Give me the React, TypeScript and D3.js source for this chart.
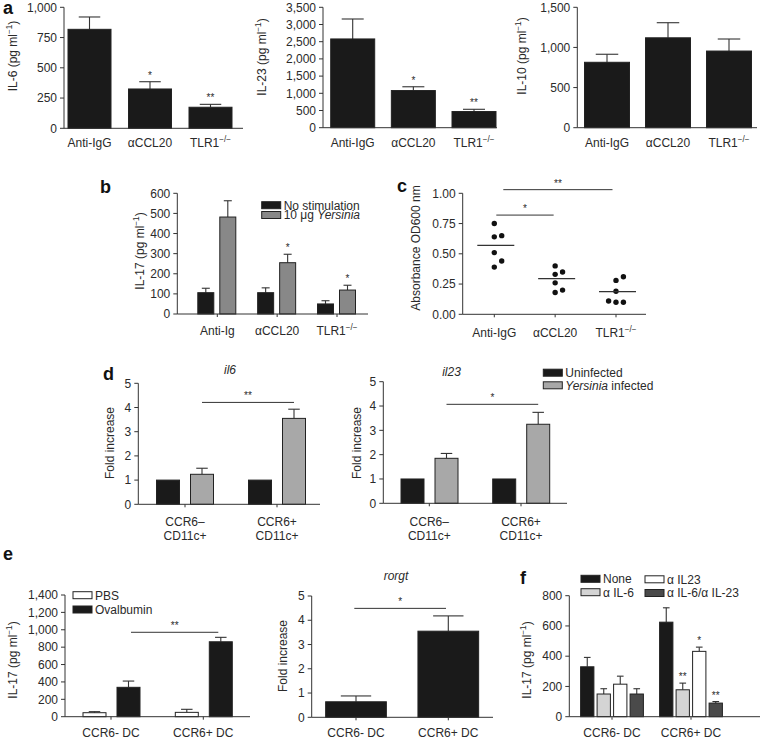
import React from "react";
import * as d3 from "d3";

const FONT = "'Liberation Sans', Arial, Helvetica, sans-serif";
const AX = "#333";
const TXT = "#2a2a2a";
const BLACK = "#1a1a1a";

// ---------- Panel a ----------
const aCats = ["Anti-IgG", "αCCL20", "TLR1^{−/−}"];
const il6Vals = [818, 325, 174];
const il6Errs = [920, 385, 198];
const il6Sig = ["", "*", "**"];
const il6Ticks = [0, 250, 500, 750, 1000];
const il23Vals = [2580, 1080, 470];
const il23Errs = [3160, 1190, 535];
const il23Sig = ["", "*", "**"];
const il23Ticks = [0, 500, 1000, 1500, 2000, 2500, 3000, 3500];
const il10Vals = [815, 1120, 955];
const il10Errs = [915, 1308, 1105];
const il10Ticks = [0, 500, 1000, 1500];

// ---------- Panel b ----------
const bCats = ["Anti-Ig", "αCCL20", "TLR1^{−/−}"];
const bNoStim = [106, 106, 50];
const bNoStimErr = [128, 130, 66];
const bYers = [482, 255, 119];
const bYersErr = [563, 297, 143];
const bSig = ["", "*", "*"];
const bTicks = [0, 100, 200, 300, 400, 500, 600];

// ---------- Panel c ----------
const cCats = ["Anti-IgG", "αCCL20", "TLR1^{−/−}"];
const cPoints: number[][] = [
  [0.75, 0.64, 0.65, 0.51, 0.44, 0.39],
  [0.40, 0.33, 0.35, 0.26, 0.20, 0.18],
  [0.28, 0.31, 0.19, 0.11, 0.10, 0.10],
];
const cColumns: number[][] = [
  [0, 0, 1, 0, 1, 0],
  [0, 0, 1, 0, 1, 0],
  [0, 1, 0, -1, 0, 1],
];
const cMeans = [0.57, 0.295, 0.187];
const cTicks = [0, 0.25, 0.5, 0.75, 1.0];

// ---------- Panel d ----------
const dCats = ["CCR6–\nCD11c+", "CCR6+\nCD11c+"];
const dUninf = [1, 1];
const il6Yers = [1.24, 3.55];
const il6YersErr = [1.49, 3.93];
const il23Yers = [1.85, 3.25];
const il23YersErr = [2.05, 3.74];
const foldTicks = [0, 1, 2, 3, 4, 5];

// ---------- Panel e ----------
const eCats = ["CCR6- DC", "CCR6+ DC"];
const ePBS = [46, 50];
const ePBSErr = [58, 85];
const eOva = [338, 862];
const eOvaErr = [410, 913];
const eTicks = [0, 200, 400, 600, 800, 1000, 1200, 1400];
const rorgtVals = [0.64, 3.55];
const rorgtErrs = [0.88, 4.18];

// ---------- Panel f ----------
const fNone = [330, 625];
const fNoneErr = [392, 720];
const fIL6 = [150, 178];
const fIL6Err = [185, 222];
const fIL23 = [215, 432];
const fIL23Err = [268, 460];
const fBoth = [150, 90];
const fBothErr = [185, 100];
const fSigIL6 = ["", "**"];
const fSigIL23 = ["", "*"];
const fSigBoth = ["", "**"];
const fTicks = [0, 200, 400, 600, 800];

function rich(s: string, size: number) {
  const parts = s.split(/(\^\{[^}]*\}|_\{[^}]*\})/).filter((p) => p.length > 0);
  let shift = 0;
  return parts.map((p, i) => {
    let t = p;
    let sup = false;
    let it = false;
    if (p.startsWith("^{")) {
      t = p.slice(2, -1);
      sup = true;
    } else if (p.startsWith("_{")) {
      t = p.slice(2, -1);
      it = true;
    }
    const target = sup ? -size * 0.42 : 0;
    const dy = target - shift;
    shift = target;
    return (
      <tspan key={i} dy={dy} fontSize={sup ? size * 0.68 : size} fontStyle={it ? "italic" : undefined}>
        {t}
      </tspan>
    );
  });
}

function YTitle({ cx, cy, s, size = 12 }: { cx: number; cy: number; s: string; size?: number }) {
  return (
    <text transform={`translate(${cx + size * 0.36},${cy}) rotate(-90)`} textAnchor="middle" fontSize={size} fill={TXT}>
      {rich(s, size)}
    </text>
  );
}

type Series = {
  values: number[];
  errs?: number[];
  fill: string;
  offset: number;
  width: number;
  sig?: string[];
};

type Bracket = { i0: number; i1: number; s: number; level: number; label: string; in0?: number; in1?: number };

function BarChart(p: {
  ax: number;
  top: number;
  bottom: number;
  right: number;
  max: number;
  ticks: number[];
  fmt: (n: number) => string;
  cats: string[];
  c0: number;
  c1: number;
  series: Series[];
  catTicks?: boolean;
  labelY: number;
  brackets?: Bracket[];
}) {
  const y = d3.scaleLinear().domain([0, p.max]).range([p.bottom, p.top]);
  const x = d3.scalePoint<string>().domain(p.cats).range([p.c0, p.c1]);
  return (
    <g>
      {p.series.map((s, si) =>
        s.values.map((v, i) => {
          const cx = (x(p.cats[i]) as number) + s.offset;
          const e = s.errs ? s.errs[i] : v;
          return (
            <g key={`${si}-${i}`}>
              {e > v && (
                <g stroke={AX} strokeWidth={1.1}>
                  <line x1={cx} x2={cx} y1={y(v)} y2={y(e)} />
                  <line x1={cx - s.width / 4} x2={cx + s.width / 4} y1={y(e)} y2={y(e)} />
                </g>
              )}
              <rect x={cx - s.width / 2} y={y(v)} width={s.width} height={p.bottom - y(v)} fill={s.fill} stroke="#222" strokeWidth={1} />
              {s.sig && s.sig[i] && (
                <text x={cx} y={y(e) - 3} textAnchor="middle" fontSize={10} fill={TXT}>
                  {s.sig[i]}
                </text>
              )}
            </g>
          );
        })
      )}
      <line x1={p.ax} x2={p.ax} y1={p.top} y2={p.bottom} stroke={AX} />
      <line x1={p.ax} x2={p.right} y1={p.bottom} y2={p.bottom} stroke={AX} />
      {p.ticks.map((t) => (
        <g key={t}>
          <line x1={p.ax - 4} x2={p.ax} y1={y(t)} y2={y(t)} stroke={AX} />
          <text x={p.ax - 7} y={y(t) + 4.2} textAnchor="end" fontSize={12} fill={TXT}>
            {p.fmt(t)}
          </text>
        </g>
      ))}
      {p.cats.map((c) => {
        const cx = x(c) as number;
        const lines = c.split("\n");
        return (
          <g key={c}>
            {p.catTicks && <line x1={cx} x2={cx} y1={p.bottom} y2={p.bottom + 3} stroke={AX} />}
            {lines.map((l, li) => (
              <text key={li} x={cx} y={p.labelY + li * 13.5} textAnchor="middle" fontSize={12} fill={TXT}>
                {rich(l, 12)}
              </text>
            ))}
          </g>
        );
      })}
      {(p.brackets || []).map((b, bi) => {
        const s = p.series[b.s];
        const x0 = (x(p.cats[b.i0]) as number) + s.offset + (b.in0 || 0);
        const x1 = (x(p.cats[b.i1]) as number) + s.offset + (b.in1 || 0);
        return (
          <g key={bi}>
            <line x1={x0} x2={x1} y1={y(b.level)} y2={y(b.level)} stroke={AX} />
            <text x={(x0 + x1) / 2} y={y(b.level) - 3} textAnchor="middle" fontSize={10} fill={TXT}>
              {b.label}
            </text>
          </g>
        );
      })}
    </g>
  );
}

function Legend({ x, rows }: { x: number; rows: { y: number; fill: string; label: string; h?: number }[] }) {
  return (
    <g>
      {rows.map((r, i) => (
        <g key={i}>
          <rect x={x} y={r.y} width={19} height={r.h || 7} fill={r.fill} stroke="#222" strokeWidth={1} />
          <text x={x + 22} y={r.y + 7.8} fontSize={12} fill={TXT}>
            {rich(r.label, 12)}
          </text>
        </g>
      ))}
    </g>
  );
}

function Letter({ x, y, s }: { x: number; y: number; s: string }) {
  return (
    <text x={x} y={y} fontSize={18} fontWeight="bold" fill="#111">
      {s}
    </text>
  );
}

function ScatterC() {
  const ax = 462.7, top = 193.3, bottom = 314.3, right = 646;
  const y = d3.scaleLinear().domain([0, 1]).range([bottom, top]);
  const x = d3.scalePoint<string>().domain(cCats).range([494.3, 616]);
  const fmt = d3.format(".2f");
  const br = [
    { i0: 0, i1: 1, level: 0.82, label: "*", in0: 2, in1: -1.5 },
    { i0: 0, i1: 2, level: 1.03, label: "**", in0: 9, in1: -3.5 },
  ];
  return (
    <g>
      {cPoints.map((pts, gi) =>
        pts.map((v, i) => (
          <circle key={`${gi}-${i}`} cx={(x(cCats[gi]) as number) + cColumns[gi][i] * 7.4} cy={y(v)} r={2.7} fill="#111" />
        ))
      )}
      {cMeans.map((m, gi) => {
        const cx = (x(cCats[gi]) as number) + 1.5;
        return <line key={gi} x1={cx - 18.5} x2={cx + 18.5} y1={y(m)} y2={y(m)} stroke={AX} strokeWidth={1.1} />;
      })}
      <line x1={ax} x2={ax} y1={top} y2={bottom} stroke={AX} />
      <line x1={ax} x2={right} y1={bottom} y2={bottom} stroke={AX} />
      {cTicks.map((t) => (
        <g key={t}>
          <line x1={ax - 4} x2={ax} y1={y(t)} y2={y(t)} stroke={AX} />
          <text x={ax - 7} y={y(t) + 4.2} textAnchor="end" fontSize={12} fill={TXT}>
            {fmt(t)}
          </text>
        </g>
      ))}
      {cCats.map((c) => (
        <g key={c}>
          <line x1={x(c) as number} x2={x(c) as number} y1={bottom} y2={bottom + 3} stroke={AX} />
          <text x={x(c) as number} y={337} textAnchor="middle" fontSize={12} fill={TXT}>
            {rich(c, 12)}
          </text>
        </g>
      ))}
      {br.map((b, bi) => {
        const x0 = (x(cCats[b.i0]) as number) + b.in0;
        const x1 = (x(cCats[b.i1]) as number) + b.in1;
        return (
          <g key={bi}>
            <line x1={x0} x2={x1} y1={y(b.level)} y2={y(b.level)} stroke={AX} />
            <text x={(x0 + x1) / 2} y={y(b.level) - 3} textAnchor="middle" fontSize={10} fill={TXT}>
              {b.label}
            </text>
          </g>
        );
      })}
    </g>
  );
}

export default function App() {
  const comma = d3.format(",");
  const plain = d3.format("d");
  const pg = "(pg ml^{−1})";
  return (
    <svg width={762} height={739} style={{ position: "absolute", left: 0, top: 0, background: "#fff" }} fontFamily={FONT}>
      <rect width={762} height={739} fill="#fff" />
      {/* ---------- a ---------- */}
      <Letter x={3} y={14} s="a" />
      <BarChart ax={64} top={7.3} bottom={128.3} right={243} max={1000} ticks={il6Ticks} fmt={comma} cats={aCats} c0={89.5} c1={210.5}
        series={[{ values: il6Vals, errs: il6Errs, fill: BLACK, offset: 0, width: 43, sig: il6Sig }]} labelY={147} />
      <YTitle cx={13} cy={56} s={`IL-6 ${pg}`} />
      <BarChart ax={323} top={7.3} bottom={127.7} right={497} max={3500} ticks={il23Ticks} fmt={comma} cats={aCats} c0={352.7} c1={474}
        series={[{ values: il23Vals, errs: il23Errs, fill: BLACK, offset: 0, width: 44, sig: il23Sig }]} labelY={147} />
      <YTitle cx={262} cy={57} s={`IL-23 ${pg}`} />
      <BarChart ax={577.3} top={7.3} bottom={127.7} right={757} max={1500} ticks={il10Ticks} fmt={comma} cats={aCats} c0={607} c1={729}
        series={[{ values: il10Vals, errs: il10Errs, fill: BLACK, offset: 0, width: 45 }]} labelY={147} />
      <YTitle cx={522} cy={56} s={`IL-10 ${pg}`} />

      {/* ---------- b ---------- */}
      <Letter x={100} y={193} s="b" />
      <BarChart ax={177.3} top={193.3} bottom={314} right={368} max={600} ticks={bTicks} fmt={plain} cats={bCats} c0={217.3} c1={337}
        series={[
          { values: bNoStim, errs: bNoStimErr, fill: BLACK, offset: -11.5, width: 16 },
          { values: bYers, errs: bYersErr, fill: "#888888", offset: 10.5, width: 16, sig: bSig },
        ]}
        catTicks labelY={335} />
      <YTitle cx={140} cy={251} s={`IL-17 ${pg}`} />
      <Legend x={261.7} rows={[
        { y: 201.7, fill: BLACK, label: "No stimulation" },
        { y: 211.5, fill: "#888888", label: "10 μg _{Yersinia}" },
      ]} />

      {/* ---------- c ---------- */}
      <Letter x={397} y={192} s="c" />
      <ScatterC />
      <YTitle cx={416} cy={248} s="Absorbance OD600 nm" />

      {/* ---------- d ---------- */}
      <Letter x={103} y={380} s="d" />
      <BarChart ax={138.3} top={383.3} bottom={504.3} right={320} max={5} ticks={foldTicks} fmt={plain} cats={dCats} c0={185} c1={277}
        series={[
          { values: dUninf, fill: BLACK, offset: -17, width: 23 },
          { values: il6Yers, errs: il6YersErr, fill: "#a8a8a8", offset: 17, width: 23 },
        ]}
        catTicks labelY={526} brackets={[{ i0: 0, i1: 1, s: 1, level: 4.21, label: "**" }]} />
      <YTitle cx={110} cy={443} s="Fold increase" />
      <text x={230} y={374} textAnchor="middle" fontSize={12} fontStyle="italic" fill={TXT}>il6</text>
      <BarChart ax={383.3} top={381.7} bottom={503.3} right={567} max={5} ticks={foldTicks} fmt={plain} cats={dCats} c0={429.3} c1={521}
        series={[
          { values: dUninf, fill: BLACK, offset: -16.8, width: 23 },
          { values: il23Yers, errs: il23YersErr, fill: "#a8a8a8", offset: 17.2, width: 23 },
        ]}
        catTicks labelY={526} brackets={[{ i0: 0, i1: 1, s: 1, level: 4.07, label: "*" }]} />
      <YTitle cx={357} cy={443} s="Fold increase" />
      <text x={451.5} y={375.5} textAnchor="middle" fontSize={12} fontStyle="italic" fill={TXT}>il23</text>
      <Legend x={543.3} rows={[
        { y: 369.2, fill: BLACK, label: "Uninfected" },
        { y: 381.8, fill: "#a8a8a8", label: "_{Yersinia} infected" },
      ]} />

      {/* ---------- e ---------- */}
      <Letter x={3} y={560} s="e" />
      <BarChart ax={65} top={595} bottom={716.7} right={250} max={1400} ticks={eTicks} fmt={comma} cats={eCats} c0={111} c1={203.3}
        series={[
          { values: ePBS, errs: ePBSErr, fill: "#ffffff", offset: -16.5, width: 23 },
          { values: eOva, errs: eOvaErr, fill: BLACK, offset: 17.5, width: 23 },
        ]}
        catTicks labelY={737} brackets={[{ i0: 0, i1: 1, s: 1, level: 971, label: "**", in0: 2.5, in1: -2.5 }]} />
      <YTitle cx={13} cy={660} s={`IL-17 ${pg}`} />
      <Legend x={73} rows={[
        { y: 591.7, fill: "#ffffff", label: "PBS" },
        { y: 606, fill: BLACK, label: "Ovalbumin" },
      ]} />
      <BarChart ax={311.7} top={596} bottom={717.3} right={493} max={5} ticks={foldTicks} fmt={plain} cats={eCats} c0={356} c1={448.3}
        series={[{ values: rorgtVals, errs: rorgtErrs, fill: BLACK, offset: 0, width: 60.7 }]}
        catTicks labelY={737} brackets={[{ i0: 0, i1: 1, s: 0, level: 4.49, label: "*", in0: -1.7, in1: -2.3 }]} />
      <YTitle cx={283} cy={656} s="Fold increase" />
      <text x={396} y={580} textAnchor="middle" fontSize={12} fontStyle="italic" fill={TXT}>rorgt</text>

      {/* ---------- f ---------- */}
      <Letter x={520} y={584} s="f" />
      <BarChart ax={569.3} top={595.7} bottom={716.7} right={760} max={800} ticks={fTicks} fmt={plain} cats={eCats} c0={612} c1={691}
        series={[
          { values: fNone, errs: fNoneErr, fill: BLACK, offset: -24.75, width: 13.3 },
          { values: fIL6, errs: fIL6Err, fill: "#d4d4d4", offset: -8.25, width: 13.3, sig: fSigIL6 },
          { values: fIL23, errs: fIL23Err, fill: "#ffffff", offset: 8.25, width: 13.3, sig: fSigIL23 },
          { values: fBoth, errs: fBothErr, fill: "#4a4a4a", offset: 24.75, width: 13.3, sig: fSigBoth },
        ]}
        catTicks labelY={737} />
      <YTitle cx={527} cy={660} s={`IL-17 ${pg}`} />
      <Legend x={581} rows={[
        { y: 575.3, fill: BLACK, label: "None" },
        { y: 588.7, fill: "#d4d4d4", label: "α IL-6" },
      ]} />
      <Legend x={645} rows={[
        { y: 575.8, fill: "#ffffff", label: "α IL23" },
        { y: 589.5, fill: "#4a4a4a", label: "α IL-6/α IL-23" },
      ]} />
    </svg>
  );
}
